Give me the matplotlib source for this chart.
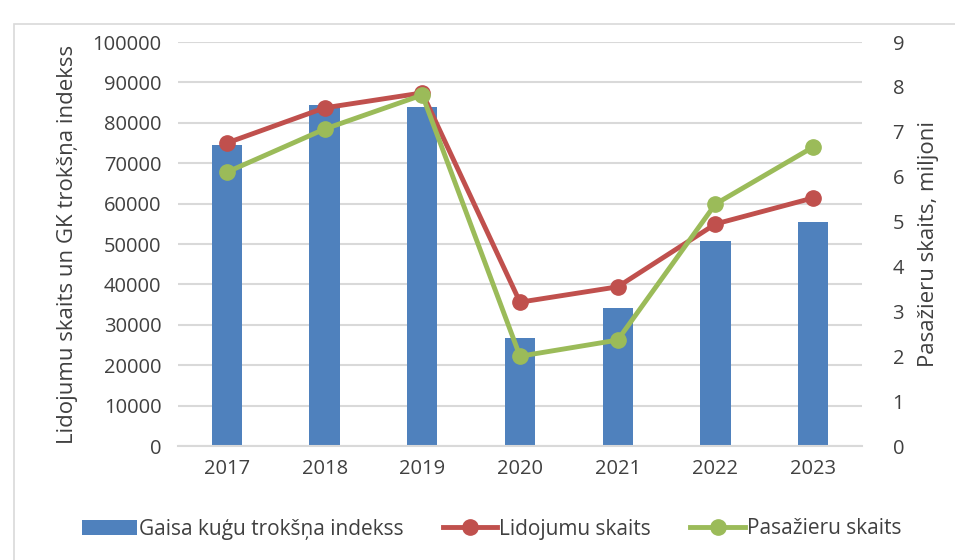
import numpy as np
import matplotlib.pyplot as plt
from matplotlib.patches import Rectangle

years = ["2017", "2018", "2019", "2020", "2021", "2022", "2023"]
noise_index = [74500, 84400, 83900, 26700, 34200, 50700, 55400]
flights = [75000, 83700, 87400, 35600, 39400, 54950, 61400]
passengers = [6.10, 7.06, 7.82, 2.00, 2.36, 5.39, 6.66]

blue = "#4F81BD"; red = "#C0504D"; green = "#9BBB59"
grid = "#D9D9D9"; txt = "#404040"

plt.rcParams['font.family'] = ['Open Sans', 'DejaVu Sans']

fig = plt.figure(figsize=(9.55, 5.6), dpi=100)
W, H = 955, 560
ax = fig.add_axes([178/W, 1-446/H, (862-178)/W, (446-42)/H])
ax2 = ax.twinx()

x = np.arange(len(years))
b = ax.bar(x, noise_index, width=0.31, color=blue, zorder=2)
l1, = ax.plot(x, flights, color=red, lw=3.5, marker='o', ms=11, zorder=3)
# passengers use the right axis scale (0-9), drawn on the left axes so they sit above the bars
ax.plot(x, np.array(passengers) * 100000 / 9, color=green, lw=3.5, marker='o', ms=11, zorder=4)

ax.set_xlim(-0.5, 6.5)
ax.set_ylim(0, 100000)
ax.set_yticks(np.arange(0, 100001, 10000))
ax2.set_ylim(0, 9)
ax2.set_yticks(np.arange(0, 10, 1))
ax.set_xticks(x)
ax.set_xticklabels(years)
ax.grid(axis='y', color=grid, lw=1.5, zorder=0)
ax.set_axisbelow(True)
for a in (ax, ax2):
    for s in a.spines.values():
        s.set_visible(False)
    a.tick_params(length=0, labelsize=14.5, colors=txt, pad=12)
ax.spines['bottom'].set_visible(True)
ax.spines['bottom'].set_color(grid)
ax.spines['bottom'].set_linewidth(1.5)
ax.tick_params(axis='x', pad=9)
ax2.tick_params(pad=22)
ax.set_zorder(ax2.get_zorder() + 1)
ax.patch.set_visible(False)

ax.set_ylabel("Lidojumu skaits un GK trokšņa indekss", fontsize=16, color=txt, labelpad=10)
ax2.set_ylabel("Pasažieru skaits, miljoni", fontsize=16, color=txt, labelpad=10)

h2, = ax.plot([], [], color=green, lw=3.5, marker='o', ms=11)
fig.legend([b, l1, h2], ["Gaisa kuģu trokšņa indekss", "Lidojumu skaits", "Pasažieru skaits"],
           loc='center', bbox_to_anchor=(0.515, 1-529/H), ncol=3, frameon=False,
           fontsize=15, labelcolor=txt, handlelength=2.6, handletextpad=0.1, columnspacing=1.9)

fig.patches.append(Rectangle((14/W, -0.01), 1.0, 1-24/H+0.01, transform=fig.transFigure,
                             fill=False, edgecolor=grid, lw=1.2))

fig.savefig("out.png", dpi=100)
